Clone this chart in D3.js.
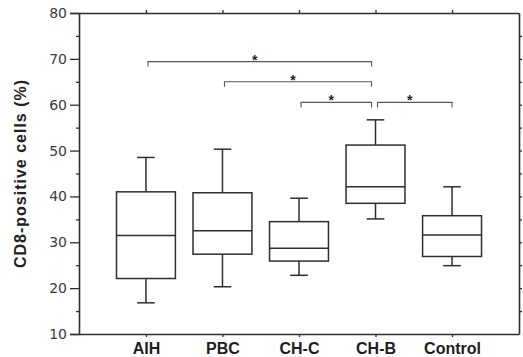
<!DOCTYPE html>
<html>
<head>
<meta charset="utf-8">
<script src="https://cdn.jsdelivr.net/npm/d3@7"></script>
<style>
  body { margin: 0; background: #fff; }
  svg { display: block; }
</style>
</head>
<body>
<figure id="box-chart" style="margin:0"></figure>
<script>
// chart values
const groups = ["AIH", "PBC", "CH-C", "CH-B", "Control"];
const whiskerLow = [16.8, 20.3, 22.8, 35.1, 24.9];
const q1 = [22.1, 27.4, 25.9, 38.5, 26.9];
const median = [31.5, 32.5, 28.7, 42.1, 31.6];
const q3 = [41.0, 40.8, 34.5, 51.2, 35.8];
const whiskerHigh = [48.5, 50.3, 39.6, 56.7, 42.1];
const yTicks = [10, 20, 30, 40, 50, 60, 70, 80];
const minorTicks = [15, 25, 35, 45, 55, 65, 75];
const bracketFrom = ["AIH", "PBC", "CH-C", "CH-B"];
const bracketTo = ["CH-B", "CH-B", "CH-B", "Control"];
const bracketLevel = [69.4, 65.0, 60.5, 60.5];

const width = 523, height = 357;
const margin = { top: 13, right: 4, bottom: 23, left: 79 };

const svg = d3.select("figure#box-chart")
  .append("svg")
  .attr("width", width)
  .attr("height", height);

const x = d3.scalePoint()
  .domain(groups)
  .range([margin.left, width - margin.right])
  .padding(0.875);

const y = d3.scaleLinear()
  .domain([10, 80])
  .range([height - margin.bottom, margin.top]);

const ink = "#2e2e2e";

// left axis with major and minor ticks
const left = svg.append("g")
  .attr("transform", "translate(" + margin.left + ",0)")
  .call(d3.axisLeft(y).tickValues(yTicks).tickSize(9).tickPadding(3));
svg.append("g")
  .attr("transform", "translate(" + margin.left + ",0)")
  .call(d3.axisLeft(y).tickValues(minorTicks).tickSize(3).tickFormat(""))
  .select(".domain").remove();

// bottom axis
const bottom = svg.append("g")
  .attr("transform", "translate(0," + (height - margin.bottom) + ")")
  .call(d3.axisBottom(x).tickSize(3).tickPadding(5).tickSizeOuter(0));

// top + right axes close the frame
svg.append("g")
  .attr("transform", "translate(0," + margin.top + ")")
  .call(d3.axisTop(x).tickSize(3).tickFormat("").tickSizeOuter(0));
svg.append("g")
  .attr("transform", "translate(" + (width - margin.right) + ",0)")
  .call(d3.axisRight(y).tickValues(d3.range(15, 80, 5)).tickSize(3).tickFormat("").tickSizeOuter(0));

svg.selectAll(".domain").attr("stroke", ink).attr("stroke-width", 1.6);
svg.selectAll(".tick line").attr("stroke", ink).attr("stroke-width", 1.3);

left.selectAll("text")
  .attr("font-family", "DejaVu Sans, sans-serif")
  .attr("font-size", 14)
  .attr("fill", "#3a3a3a");

bottom.selectAll("text")
  .attr("font-family", "Liberation Sans, Arial, sans-serif")
  .attr("font-weight", "bold")
  .attr("font-size", 16)
  .attr("fill", "#1e1e1e")
  .attr("dy", "0.72em");

// y title
svg.append("text")
  .attr("transform", "translate(26," + ((margin.top + height - margin.bottom) / 2) + ") rotate(-90)")
  .attr("text-anchor", "middle")
  .attr("font-family", "Liberation Sans, Arial, sans-serif")
  .attr("font-weight", "bold")
  .attr("font-size", 16)
  .attr("letter-spacing", 1)
  .attr("fill", "#222")
  .text("CD8-positive cells (%)");

// boxes
const boxW = x.step() * 0.77;
const capW = x.step() * 0.23;
const boxes = svg.append("g")
  .attr("fill", "none")
  .attr("stroke", ink)
  .attr("stroke-width", 1.5);

groups.forEach((g, i) => {
  const cx = x(g);
  boxes.append("line")
    .attr("x1", cx).attr("x2", cx)
    .attr("y1", y(whiskerHigh[i])).attr("y2", y(q3[i]));
  boxes.append("line")
    .attr("x1", cx).attr("x2", cx)
    .attr("y1", y(q1[i])).attr("y2", y(whiskerLow[i]));
  boxes.append("line")
    .attr("x1", cx - capW / 2).attr("x2", cx + capW / 2)
    .attr("y1", y(whiskerHigh[i])).attr("y2", y(whiskerHigh[i]));
  boxes.append("line")
    .attr("x1", cx - capW / 2).attr("x2", cx + capW / 2)
    .attr("y1", y(whiskerLow[i])).attr("y2", y(whiskerLow[i]));
  boxes.append("rect")
    .attr("x", cx - boxW / 2)
    .attr("y", y(q3[i]))
    .attr("width", boxW)
    .attr("height", y(q1[i]) - y(q3[i]));
  boxes.append("line")
    .attr("x1", cx - boxW / 2).attr("x2", cx + boxW / 2)
    .attr("y1", y(median[i])).attr("y2", y(median[i]));
});

// significance brackets
const br = svg.append("g");
bracketFrom.forEach((from, i) => {
  const to = bracketTo[i];
  const x1 = x(from) + 2;
  const x2 = x(to) - (to === "CH-B" ? 4 : 0);
  const yy = y(bracketLevel[i]);
  br.append("path")
    .attr("d", "M" + x1 + "," + (yy + 5) + "V" + yy + "H" + x2 + "V" + (yy + 5))
    .attr("fill", "none")
    .attr("stroke", "#555")
    .attr("stroke-width", 1.1);
  br.append("text")
    .attr("x", (x1 + x2) / 2 - 5)
    .attr("y", yy + 3)
    .attr("text-anchor", "middle")
    .attr("font-family", "Liberation Sans, Arial, sans-serif")
    .attr("font-weight", "bold")
    .attr("font-size", 14)
    .attr("fill", "#222")
    .text("*");
});
</script>
</body>
</html>
